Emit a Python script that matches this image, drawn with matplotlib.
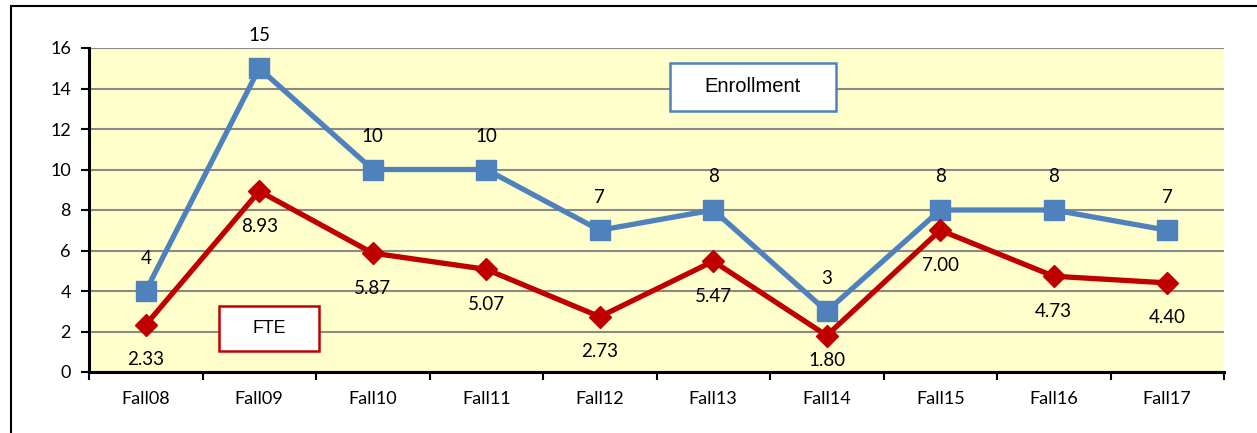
import matplotlib
matplotlib.use("Agg")
import matplotlib.pyplot as plt
from matplotlib.patches import Rectangle

categories = ["Fall08", "Fall09", "Fall10", "Fall11", "Fall12", "Fall13", "Fall14", "Fall15", "Fall16", "Fall17"]
enrollment = [4, 15, 10, 10, 7, 8, 3, 8, 8, 7]
fte = [2.33, 8.93, 5.87, 5.07, 2.73, 5.47, 1.80, 7.00, 4.73, 4.40]
yticks = [0, 2, 4, 6, 8, 10, 12, 14, 16]

W, H = 1257, 433
fig = plt.figure(figsize=(W / 100, H / 100), dpi=100)
fig.patch.set_facecolor("white")

# outer chart border (left and top edges visible)
fig.add_artist(Rectangle((11 / W, -0.5), 2.0, 1.5 - 6 / H,
                         transform=fig.transFigure, fill=False, edgecolor="black",
                         linewidth=1.5))

ax_l, ax_r, ax_t, ax_b = 89, 1224, 48, 372
ax = fig.add_axes([ax_l / W, (H - ax_b) / H, (ax_r - ax_l) / W, (ax_b - ax_t) / H])
ax.set_facecolor("#FFFFCC")
ymax = 16
px_per_unit = (ax_b - ax_t) / ymax

x = list(range(len(categories)))
ax.plot(x, enrollment, color="#4F81BD", linewidth=3.8, marker="s", markersize=14,
        zorder=3, clip_on=False)
ax.plot(x, fte, color="#C00000", linewidth=3.8, marker="D", markersize=11,
        zorder=3, clip_on=False)

lab_font = dict(family=["Lato", "DejaVu Sans"], fontsize=13.5, color="black")
tick_font = dict(family=["Lato", "DejaVu Sans"], fontsize=13, color="black")
for xi, v in zip(x, enrollment):
    ax.text(xi, v + 33 / px_per_unit, f"{v}", ha="center", va="center", **lab_font)
label_floor = 12 / px_per_unit
for xi, v in zip(x, fte):
    ax.text(xi, max(v - 35 / px_per_unit, label_floor), f"{v:.2f}",
            ha="center", va="center", **lab_font)

ax.set_xlim(-0.5, len(categories) - 0.5)
ax.set_ylim(0, ymax)
ax.set_yticks(yticks)
ax.set_yticklabels([str(t) for t in yticks], **tick_font)
ax.set_xticks(x)
ax.set_xticklabels(categories, **tick_font)
ax.set_xticks([i - 0.5 for i in range(len(categories) + 1)], minor=True)
ax.tick_params(axis="x", which="major", length=0, pad=14)
ax.tick_params(axis="x", which="minor", length=6, width=1.5, direction="out")
ax.tick_params(axis="y", length=6, width=1.5, direction="out", pad=7)

ax.grid(axis="y", color="#898989", linewidth=1.5, zorder=1)
ax.set_axisbelow(True)
for s in ["top", "right"]:
    ax.spines[s].set_visible(False)
for s in ["left", "bottom"]:
    ax.spines[s].set_linewidth(2.2)
    ax.spines[s].set_color("black")
    ax.spines[s].set_zorder(4)


def label_box(x0, y0, x1, y1, text, edge, size):
    fig.add_artist(Rectangle((x0 / W, 1 - y1 / H), (x1 - x0) / W, (y1 - y0) / H,
                             transform=fig.transFigure, facecolor="white",
                             edgecolor=edge, linewidth=1.8, zorder=6))
    fig.text((x0 + x1) / 2 / W, 1 - (y0 + y1) / 2 / H, text, ha="center",
             va="center", zorder=7, family=["Liberation Sans", "DejaVu Sans"],
             fontsize=size, color="black")


label_box(670, 63, 836, 111, "Enrollment", "#4F81BD", 14.5)
label_box(219, 306, 319, 351, "FTE", "#C00000", 12.8)

fig.savefig("out.png", dpi=100)
